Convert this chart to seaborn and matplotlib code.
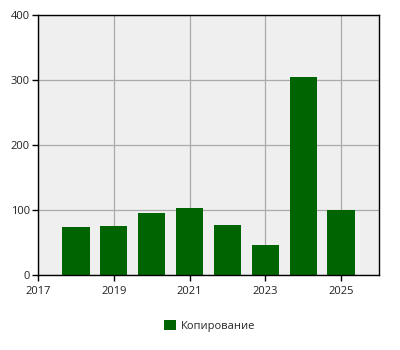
import matplotlib
matplotlib.use("Agg")
import matplotlib.pyplot as plt
import seaborn as sns
import pandas as pd

years = [2018, 2019, 2020, 2021, 2022, 2023, 2024, 2025]
values = [74, 75, 95, 103, 77, 46, 305, 100]
series_name = "Копирование"
xticks = [2017, 2019, 2021, 2023, 2025]
yticks = [0, 100, 200, 300, 400]

sns.set_style("white")
plt.rcParams['font.family'] = ['Open Sans', 'DejaVu Sans']

df = pd.DataFrame({"year": years, "value": values, "series": series_name})

fig = plt.figure(figsize=(4, 3.5), dpi=100)
ax = fig.add_axes([0.095, 0.2143, 0.8525, 0.7427])
ax.set_facecolor("#efefef")

sns.barplot(data=df, x="year", y="value", hue="series", native_scale=True,
            palette=["#006400"], width=0.72, saturation=1, ax=ax, legend=True,
            edgecolor="none", linewidth=0)

ax.set_xlim(2017, 2026)
ax.set_ylim(0, 400)
ax.set_xticks(xticks)
ax.set_xticklabels([str(t) for t in xticks])
ax.set_yticks(yticks)
ax.grid(True, color="#aaaaaa", linewidth=0.9)
ax.set_axisbelow(True)
ax.set_xlabel("")
ax.set_ylabel("")
for s in ax.spines.values():
    s.set_color("black")
    s.set_linewidth(1.0)
ax.tick_params(axis="both", which="both", direction="out", length=4, width=1,
               color="black", labelsize=8, labelcolor="#222222", pad=2,
               bottom=True, left=True)
ax.tick_params(axis="x", pad=4)

handles, labels = ax.get_legend_handles_labels()
ax.get_legend().remove()
fig.legend(handles, labels, loc="center", bbox_to_anchor=(0.525, 0.069),
           frameon=False, fontsize=8, handlelength=1.0, handleheight=1.0,
           handletextpad=0.5)

fig.savefig("out.png", dpi=100)
